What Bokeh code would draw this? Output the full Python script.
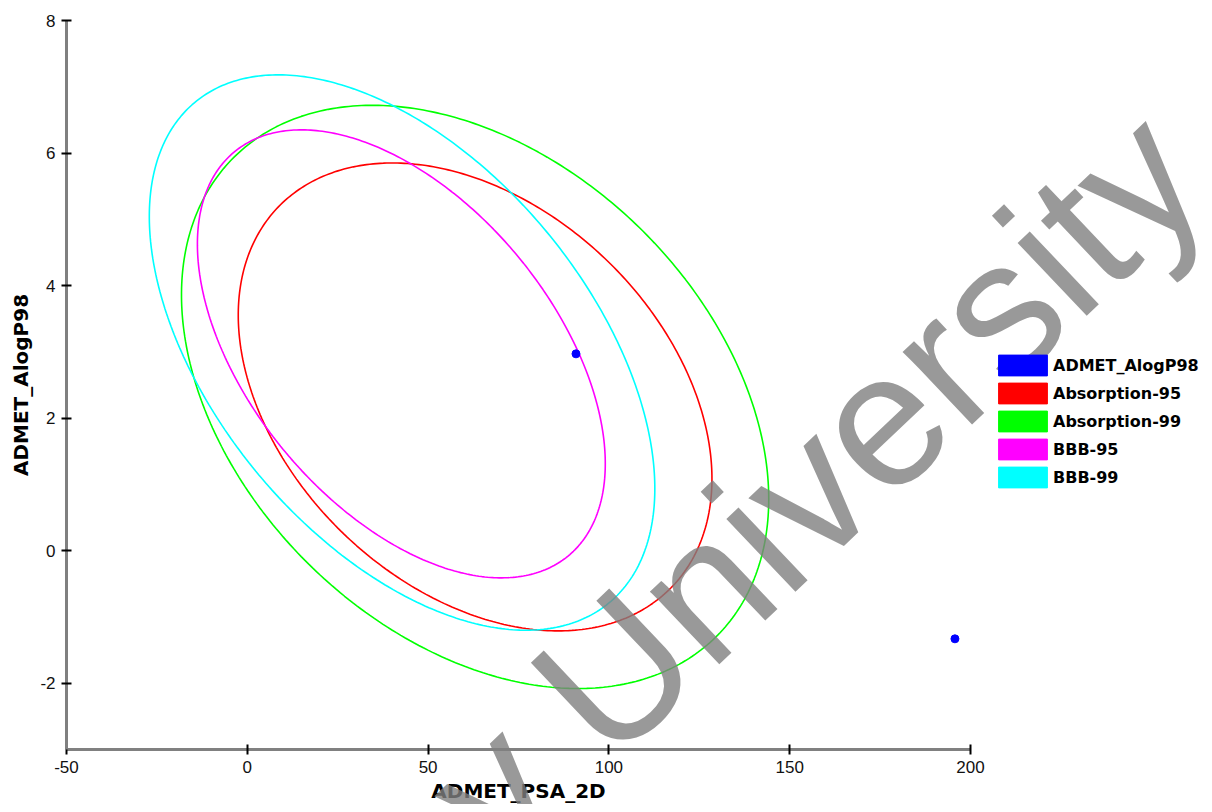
import numpy as np
from bokeh.plotting import figure
from bokeh.models import Legend, LegendItem, FixedTicker, Label, Range1d
from bokeh.embed import file_html
from bokeh.resources import INLINE

# ---- data ----
point_label = "ADMET_AlogP98"
point_color = "#0000FF"
psa_2d = [90.9, 195.7]
alogp98 = [2.97, -1.33]

ell_names = ["Absorption-95", "Absorption-99", "BBB-95", "BBB-99"]
ell_colors = ["#FF0000", "#00FF00", "#FF00FF", "#00FFFF"]
ell_cx = [63.0, 63.0, 42.6, 42.8]        # centre, ADMET_PSA_2D
ell_cy = [2.32, 2.32, 2.97, 2.99]        # centre, ADMET_AlogP98
ell_half_w = [65.5, 81.2, 56.4, 69.9]    # half extent along PSA
ell_half_h = [3.53, 4.40, 3.38, 4.19]    # half extent along AlogP
ell_corr = [-0.35, -0.35, -0.49, -0.49]  # tilt (correlation)

x_ticks = [-50, 0, 50, 100, 150, 200]
y_ticks = [-2, 0, 2, 4, 6, 8]
x_lim = (-50, 200)
y_lim = (-3, 8)

# ---- layout (pixels) ----
W, H = 1204, 804
AX_LEFT, AX_RIGHT, AX_TOP, AX_BOTTOM = 66, 970, 20, 749
sx = (AX_RIGHT - AX_LEFT) / (x_lim[1] - x_lim[0])
sy = (AX_BOTTOM - AX_TOP) / (y_lim[1] - y_lim[0])
x_range = Range1d(x_lim[0] - AX_LEFT / sx, x_lim[1] + (W - AX_RIGHT) / sx)
y_range = Range1d(y_lim[0] - (H - AX_BOTTOM) / sy, y_lim[1] + AX_TOP / sy)

p = figure(width=W, height=H, x_range=x_range, y_range=y_range,
           output_backend="svg", toolbar_location=None,
           min_border=0)
p.outline_line_color = None
p.grid.visible = False
p.background_fill_color = "white"
p.border_fill_color = "white"

t = np.linspace(0, 2 * np.pi, 400)
legend_items = []

# legend proxy for the points (filled rectangle, as in the reference)
nan = [float("nan")]
proxy = p.quad(left=nan, right=nan, top=nan, bottom=nan,
               fill_color=point_color, line_color=point_color)
legend_items.append(LegendItem(label=point_label, renderers=[proxy]))

for name, c, cx, cy, w, h, r in zip(ell_names, ell_colors, ell_cx, ell_cy,
                                    ell_half_w, ell_half_h, ell_corr):
    xs = cx + w * np.cos(t)
    ys = cy + h * (r * np.cos(t) + np.sqrt(1 - r * r) * np.sin(t))
    p.line(xs, ys, line_color=c, line_width=1.6)
    pr = p.quad(left=nan, right=nan, top=nan, bottom=nan,
                fill_color=c, line_color=c)
    legend_items.append(LegendItem(label=name, renderers=[pr]))

p.scatter(psa_2d, alogp98, size=8, fill_color=point_color, line_color=point_color)

# ---- axes (fixed at the data-area edges) ----
p.xaxis.fixed_location = y_lim[0]
p.xaxis.bounds = x_lim
p.yaxis.fixed_location = x_lim[0]
p.yaxis.bounds = y_lim
for ax, ticks in ((p.xaxis, x_ticks), (p.yaxis, y_ticks)):
    ax.ticker = FixedTicker(ticks=ticks)
    ax.major_label_overrides = {tk: str(tk) for tk in ticks}
    ax.minor_tick_line_color = None
    ax.major_tick_in = 5
    ax.major_tick_out = 5
    ax.major_tick_line_color = "black"
    ax.major_tick_line_width = 2
    ax.axis_line_color = "#808080"
    ax.axis_line_width = 3
    ax.major_label_text_font = "Liberation Sans"
    ax.major_label_text_font_size = "17px"
    ax.major_label_text_color = "#111111"
    ax.major_label_standoff = 6
    ax.axis_label_text_font = "DejaVu Sans"
    ax.axis_label_text_font_style = "bold"
    ax.axis_label_text_font_size = "20px"
    ax.axis_label_text_color = "black"
    ax.axis_label_standoff = 4

p.xaxis.axis_label = "ADMET_PSA_2D"
p.yaxis.axis_label = "ADMET_AlogP98"
p.xaxis.axis_label_standoff = 3

# ---- watermark ----
wm = Label(x=457, y=H - 821, x_units="screen", y_units="screen",
           text="y University", angle=0.759,
           text_font="Liberation Sans", text_font_size="190px",
           text_color="#7f7f7f", text_alpha=0.8,
           text_align="left", text_baseline="alphabetic")
p.add_layout(wm)

# ---- legend (quad legend glyphs are inset by 10% on each side) ----
legend = Legend(items=legend_items, location=(992, H - 490),
                glyph_width=61, glyph_height=26, label_height=26,
                spacing=2, padding=0, margin=0, label_standoff=0,
                label_text_font="DejaVu Sans", label_text_font_style="bold",
                label_text_font_size="16px", label_text_color="black",
                border_line_color=None, background_fill_alpha=0)
p.add_layout(legend)

open("out.html", "w").write(file_html(p, INLINE))
